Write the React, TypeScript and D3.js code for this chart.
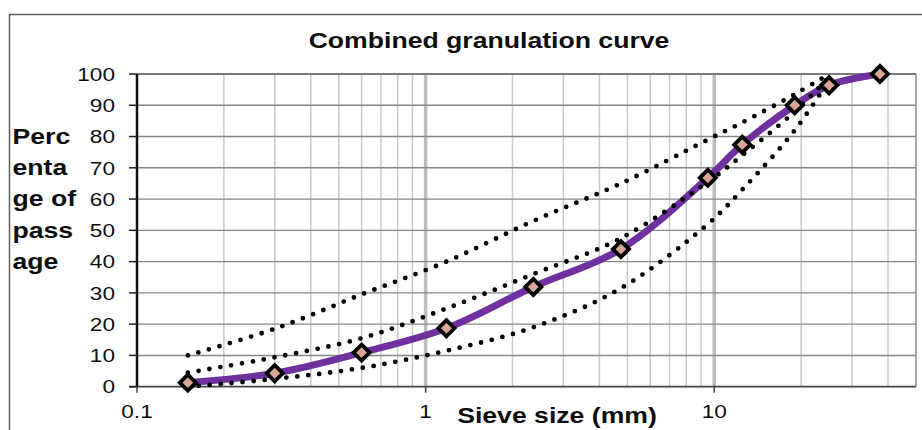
import React from "react";
import * as d3 from "d3";

// sieve sizes (mm) and passing percentages
const sieves = [0.15, 0.3, 0.6, 1.18, 2.36, 4.75, 9.5, 12.5, 19, 25, 37.5];
const combined = [1.3, 4.3, 10.9, 18.7, 31.9, 44.0, 66.8, 77.4, 90.0, 96.4, 100];

// envelope curves (dotted), up to 25 mm
const envSieves = [0.15, 0.3, 0.6, 1.18, 2.36, 4.75, 9.5, 12.5, 19, 25];
const upperLimit = [10, 18.5, 29.5, 40, 53, 65, 79, 84.5, 93.5, 100];
const middleCurve = [4.5, 9.4, 15.5, 25, 36, 47.5, 65.5, 74, 88, 99];
const lowerLimit = [0, 2.5, 6, 11.5, 19, 31.5, 52, 63, 82, 98];

const yTicks = [0, 10, 20, 30, 40, 50, 60, 70, 80, 90, 100];
const xMajor = [0.1, 1, 10];
const xMinor = [0.2, 0.3, 0.4, 0.5, 0.6, 0.7, 0.8, 0.9, 2, 3, 4, 5, 6, 7, 8, 9, 20, 30, 40];
const yTitleLines = ["Perc", "enta", "ge of", "pass", "age"];

const W = 922, H = 430;
const left = 137, right = 916, top = 74, bottom = 386.7;
const SX = 1.21; // glyphs in the picture are stretched sideways
const font = "'Liberation Sans', Arial, sans-serif";

export default function App() {
  const x = d3.scaleLog().domain([0.1, 50]).range([left, right]);
  const y = d3.scaleLinear().domain([0, 100]).range([bottom, top]);

  const line = d3.line<[number, number]>()
    .x(d => x(d[0]))
    .y(d => y(d[1]))
    .curve(d3.curveCatmullRom.alpha(0.5));

  const mainPts = sieves.map((s, i) => [s, combined[i]] as [number, number]);
  const envs = [upperLimit, middleCurve, lowerLimit].map(vals =>
    envSieves.map((s, i) => [s, vals[i]] as [number, number]));

  const label = (txt: string, tx: number, ty: number, anchor: string, size: number, bold = false, key?: any) => (
    <text key={key} transform={`translate(${tx},${ty}) scale(${SX},1)`} textAnchor={anchor}
      fontFamily={font} fontSize={size} fontWeight={bold ? "bold" : "normal"} fill="#0d0d0d">{txt}</text>
  );

  return (
    <svg width={W} height={H} style={{ position: "absolute", left: 0, top: 0, background: "#fff" }}>
      <rect x={9.5} y={14.5} width={2000} height={2000} fill="#fff" stroke="#5f5f5f" strokeWidth={1.5} />

      {/* minor vertical grid */}
      {xMinor.map(v => (
        <line key={"mi" + v} x1={x(v)} x2={x(v)} y1={top} y2={bottom} stroke="#c9c9c9" strokeWidth={1.5} />
      ))}
      {xMajor.slice(1).map(v => (
        <line key={"ma" + v} x1={x(v)} x2={x(v)} y1={top} y2={bottom} stroke="#bdbdbd" strokeWidth={3.5} />
      ))}
      {/* horizontal grid */}
      {yTicks.slice(1).map(v => (
        <line key={"h" + v} x1={left} x2={right} y1={y(v)} y2={y(v)} stroke="#868686" strokeWidth={1.4} />
      ))}
      <line x1={right} x2={right} y1={top} y2={bottom} stroke="#8c8c8c" strokeWidth={1.5} />
      <line x1={left} x2={right} y1={top} y2={top} stroke="#7a7a7a" strokeWidth={2} />

      {/* axes */}
      <line x1={left - 8} x2={right} y1={bottom} y2={bottom} stroke="#444" strokeWidth={1.8} />
      {xMajor.map(v => (
        <line key={"xt" + v} x1={x(v)} x2={x(v)} y1={bottom} y2={bottom + 6} stroke="#444" strokeWidth={1.5} />
      ))}
      {yTicks.map(v => (
        <line key={"yt" + v} x1={left - 8} x2={left} y1={y(v)} y2={y(v)} stroke="#222" strokeWidth={1.5} />
      ))}
      <line x1={left} x2={left} y1={top} y2={bottom} stroke="#111" strokeWidth={2.5} />

      {/* combined curve */}
      <path d={line(mainPts) || ""} fill="none" stroke="#7030a0" strokeWidth={7} strokeLinejoin="round" />

      {/* envelope dotted curves */}
      {envs.map((pts, i) => (
        <path key={"env" + i} d={line(pts) || ""} fill="none" stroke="#000" strokeWidth={4.8}
          strokeDasharray="0 11" strokeLinecap="round" />
      ))}

      {/* markers */}
      {mainPts.map((p, i) => (
        <path key={"mk" + i} d={d3.symbol(d3.symbolDiamond2, 165)() || ""}
          transform={`translate(${x(p[0])},${y(p[1])})`}
          fill="#d9a597" stroke="#000" strokeWidth={3.8} strokeLinejoin="miter" />
      ))}

      {/* tick labels */}
      {yTicks.map(v => label(String(v), 115, y(v) + 6.7, "end", 18.7, false, "yl" + v))}
      {xMajor.map(v => label(String(v), x(v), 418, "middle", 18.7, false, "xl" + v))}

      {/* titles */}
      {label("Combined granulation curve", 489, 48.3, "middle", 22, true)}
      {label("Sieve size (mm)", 557, 423, "middle", 22, true)}
      {yTitleLines.map((t, i) => label(t, 12.5, 144 + i * 31.2, "start", 22, true, "yt" + i))}
    </svg>
  );
}
